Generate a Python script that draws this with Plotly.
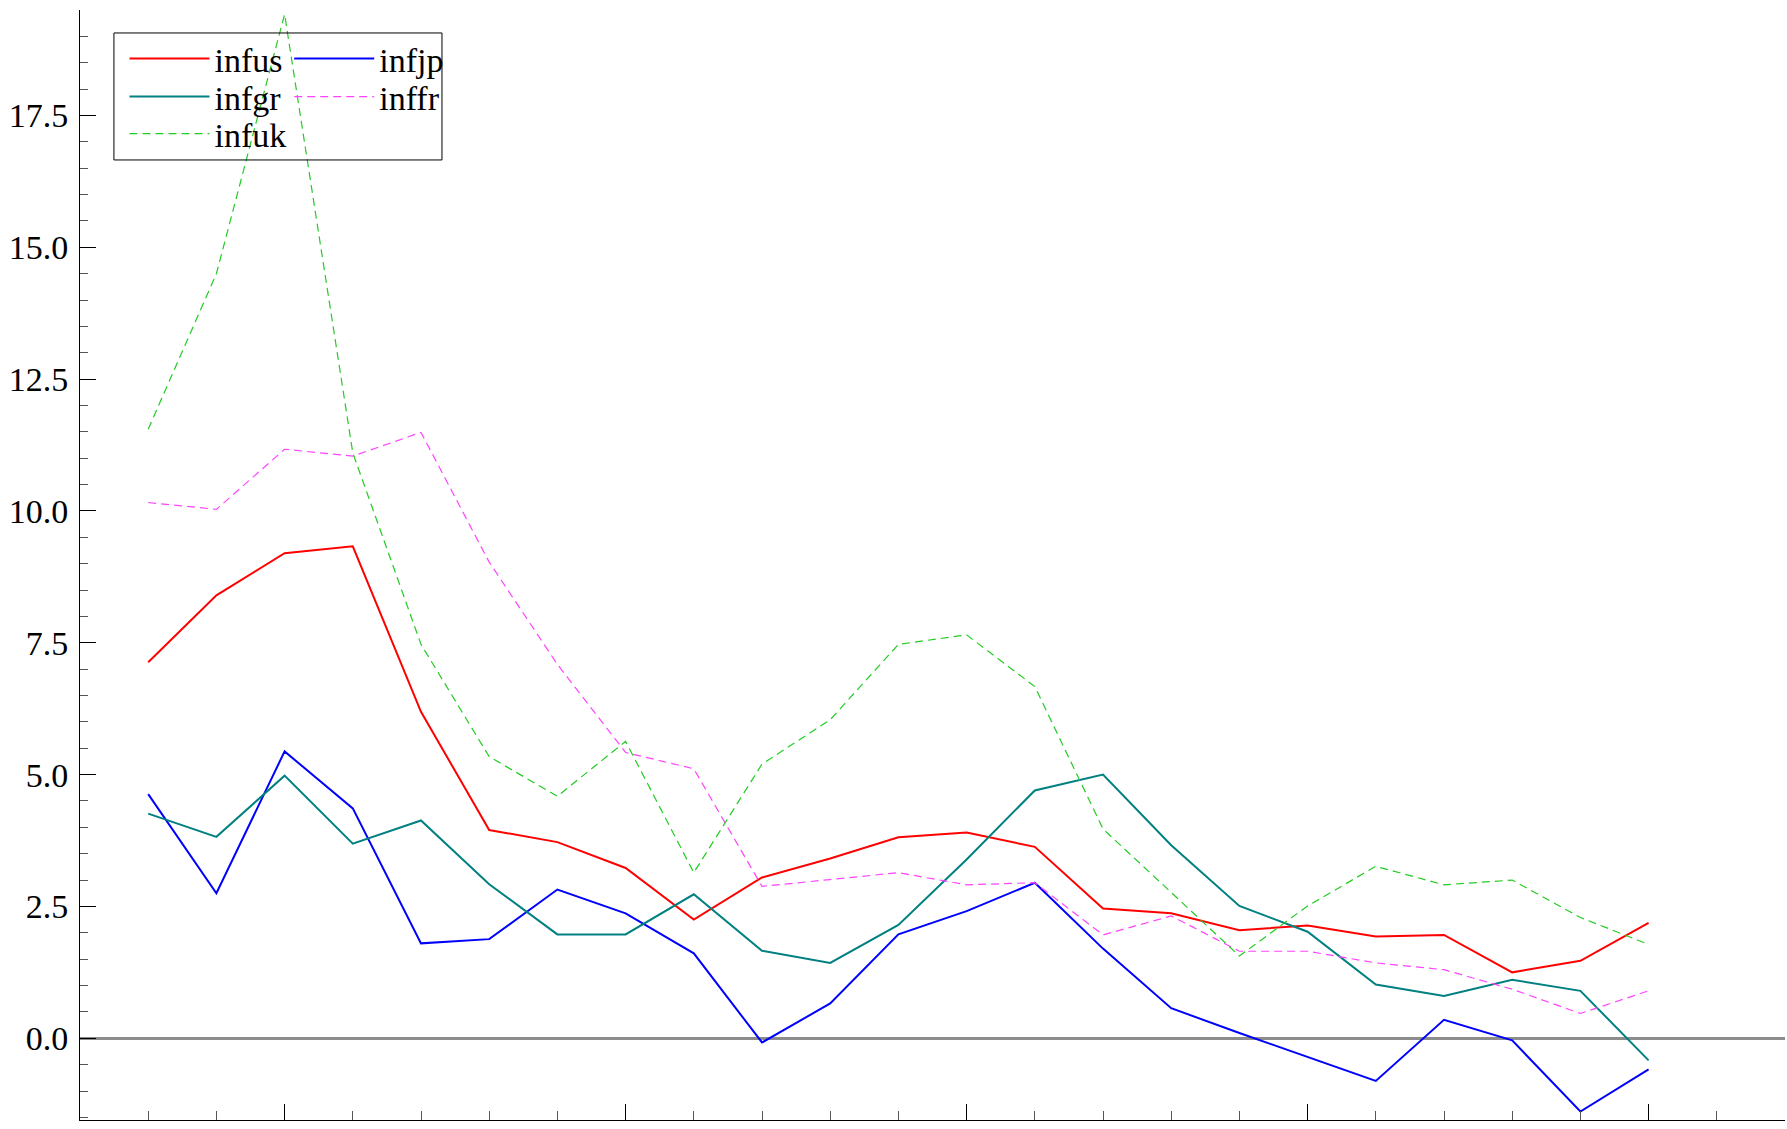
import plotly.graph_objects as go

# Annual inflation rates (%), 1973-1995
years = list(range(1973, 1996))

infus = [7.13, 8.40, 9.20, 9.33, 6.19, 3.95, 3.72, 3.23, 2.25, 3.05, 3.41, 3.81,
         3.90, 3.63, 2.46, 2.37, 2.05, 2.14, 1.93, 1.96, 1.25, 1.47, 2.19]
infjp = [4.63, 2.75, 5.44, 4.36, 1.80, 1.88, 2.82, 2.37, 1.61, -0.08, 0.66, 1.97,
         2.41, 2.95, 1.70, 0.57, 0.10, -0.36, -0.81, 0.35, -0.04, -1.39, -0.59]
infgr = [4.26, 3.82, 4.98, 3.69, 4.13, 2.92, 1.97, 1.97, 2.73, 1.66, 1.43, 2.15,
         3.39, 4.70, 5.00, 3.66, 2.51, 2.02, 1.02, 0.80, 1.11, 0.90, -0.42]
inffr = [10.16, 10.03, 11.17, 11.04, 11.49, 9.03, 7.09, 5.42, 5.11, 2.88, 3.01, 3.14,
         2.91, 2.95, 1.96, 2.32, 1.65, 1.65, 1.43, 1.30, 0.93, 0.47, 0.90]
infuk = [11.55, 14.50, 19.42, 11.10, 7.47, 5.34, 4.59, 5.63, 3.14, 5.20, 6.04, 7.47,
         7.65, 6.67, 3.97, 2.76, 1.56, 2.51, 3.26, 2.91, 3.00, 2.29, 1.78]

FONT = "Liberation Serif, Times New Roman, serif"

# Each series gets its own legend slot so the key can be laid out as a
# two-column grid: (column x, row y) in paper coordinates.
COL_X = [0.0261, 0.1227]
ROW_Y = [0.9559, 0.9216, 0.8883]

series = [
    ("infus", infus, dict(color="#ff0000", width=2), "legend", 0, 0),
    ("infjp", infjp, dict(color="#0000ff", width=2), "legend2", 1, 0),
    ("infgr", infgr, dict(color="#008080", width=2), "legend3", 0, 1),
    ("inffr", inffr, dict(color="#ff44ff", width=1.2, dash="8px,5px"), "legend4", 1, 1),
    ("infuk", infuk, dict(color="#22cc22", width=1.2, dash="8px,5px"), "legend5", 0, 2),
]

fig = go.Figure()
legends = {}
for name, values, line, leg, col, row in series:
    fig.add_trace(go.Scatter(x=years, y=values, name=name, mode="lines",
                             line=line, legend=leg, showlegend=True))
    legends[leg] = dict(
        visible=True,
        x=COL_X[col], y=ROW_Y[row],
        xanchor="left", yanchor="middle",
        font=dict(family=FONT, size=34, color="black"),
        bgcolor="rgba(0,0,0,0)",
        borderwidth=0,
        itemwidth=80,
    )

fig.update_layout(
    width=1787,
    height=1129,
    margin=dict(l=80, r=2, t=10, b=9),
    paper_bgcolor="white",
    plot_bgcolor="white",
    showlegend=True,
    font=dict(family=FONT, size=34, color="black"),
    **legends,
    xaxis=dict(
        range=[1972, 1997],
        showgrid=False,
        zeroline=False,
        showline=True,
        linecolor="black",
        linewidth=1,
        ticks="inside",
        ticklen=16,
        tickcolor="black",
        tick0=1975,
        dtick=5,
        showticklabels=False,
        minor=dict(ticks="inside", ticklen=9, tickcolor="#555555",
                   tick0=1973, dtick=1, showgrid=False),
    ),
    yaxis=dict(
        range=[-1.55, 19.5],
        showgrid=False,
        zeroline=True,
        zerolinecolor="#8c8c8c",
        zerolinewidth=2.5,
        showline=True,
        linecolor="black",
        linewidth=1,
        ticks="inside",
        ticklen=16,
        tickcolor="black",
        tick0=0,
        dtick=2.5,
        tickformat=".1f",
        ticklabelstandoff=4,
        tickfont=dict(family=FONT, size=34, color="black"),
        minor=dict(ticks="inside", ticklen=8, tickcolor="#555555",
                   tick0=0, dtick=0.5, showgrid=False),
    ),
    shapes=[
        dict(type="rect", xref="paper", yref="paper",
             x0=0.0199, x1=0.2123, y0=0.8649, y1=0.9793,
             line=dict(color="black", width=1), fillcolor="rgba(0,0,0,0)",
             layer="above"),
    ],
)

fig.write_html("out.html")
